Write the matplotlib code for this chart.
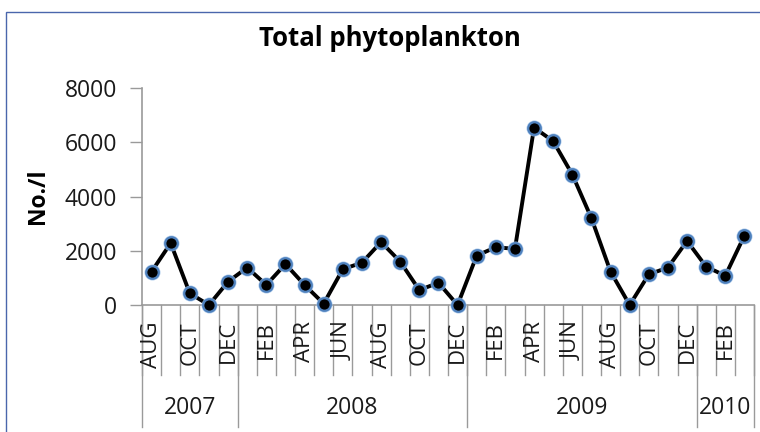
import matplotlib
matplotlib.use("Agg")
import matplotlib.pyplot as plt
from matplotlib.patches import Rectangle
from matplotlib.lines import Line2D

plt.rcParams['font.family'] = ['Open Sans', 'DejaVu Sans']

months = ["AUG", "SEP", "OCT", "NOV", "DEC",
          "JAN", "FEB", "MAR", "APR", "MAY", "JUN", "JUL", "AUG", "SEP", "OCT", "NOV", "DEC",
          "JAN", "FEB", "MAR", "APR", "MAY", "JUN", "JUL", "AUG", "SEP", "OCT", "NOV", "DEC",
          "JAN", "FEB", "MAR"]
years = ["2007", "2008", "2009", "2010"]
year_counts = [5, 12, 12, 3]
values = [1230, 2280, 430, 0, 860, 1380, 740, 1510, 740, 50, 1320, 1560,
          2320, 1600, 550, 820, 0, 1820, 2130, 2070, 6540, 6040, 4810, 3200,
          1230, 0, 1130, 1380, 2360, 1410, 1080, 2560]
yticks = [0, 2000, 4000, 6000, 8000]

W, H = 760, 432
fig = plt.figure(figsize=(W / 100, H / 100), dpi=100)
fig.patch.set_facecolor('white')

# outer chart border
top_frac = 1 - 12 / H
fig.patches.append(Rectangle((6 / W, -0.2), 1.5, top_frac + 0.2, transform=fig.transFigure,
                             fill=False, edgecolor='#4a66ac', linewidth=1.0, zorder=0))

ax_left, ax_right = 142 / W, 754 / W
ax_bottom, ax_top = 1 - 305 / H, 1 - 88 / H
ax = fig.add_axes([ax_left, ax_bottom, ax_right - ax_left, ax_top - ax_bottom])

x = list(range(len(values)))
gray = '#9a9a9a'
txt = '#1a1a1a'
ax.plot(x, values, color='black', linewidth=2.8, zorder=3, clip_on=False)
ax.plot(x, values, linestyle='none', marker='o', markersize=11.5,
        markerfacecolor='#9cc0e8', markeredgecolor='none', alpha=0.85, zorder=4, clip_on=False)
ax.plot(x, values, linestyle='none', marker='o', markersize=9,
        markerfacecolor='black', markeredgecolor='#4f81bd', markeredgewidth=1.6,
        zorder=5, clip_on=False)

ax.set_xlim(-0.5, len(values) - 0.5)
ax.set_ylim(0, 8000)
ax.set_yticks(yticks)
ax.set_yticklabels([str(v) for v in yticks], fontsize=16.5, color=txt)
ax.tick_params(axis='y', direction='out', length=9, width=1, color=gray, pad=9)
ax.set_xticks([])

for s in ['top', 'right']:
    ax.spines[s].set_visible(False)
ax.spines['left'].set_color(gray)
ax.spines['bottom'].set_color(gray)
ax.spines['left'].set_linewidth(1.2)
ax.spines['bottom'].set_linewidth(1.2)

ax_h_px = (ax_top - ax_bottom) * H
def yfrac(px_below):
    return -px_below / ax_h_px

trans = ax.get_xaxis_transform()
# category separators
for i in range(len(values) + 1):
    b = i - 0.5
    ax.add_line(Line2D([b, b], [0, yfrac(70)], transform=trans, color=gray,
                       linewidth=1.0, clip_on=False))
# year separators
pos = 0
bounds = [0]
for c in year_counts:
    pos += c
    bounds.append(pos)
for b in bounds:
    ax.add_line(Line2D([b - 0.5, b - 0.5], [0, yfrac(122)], transform=trans, color=gray,
                       linewidth=1.0, clip_on=False))

# month labels every other month
for i, m in enumerate(months):
    if i % 2 == 0:
        ax.text(i, yfrac(16), m, transform=trans, rotation=90, ha='center', va='top',
                fontsize=16, color=txt)

# year labels
for k, yr in enumerate(years):
    c = (bounds[k] + bounds[k + 1] - 1) / 2
    ax.text(c, yfrac(103), yr, transform=trans, ha='center', va='center',
            fontsize=16.5, color=txt)

ax.set_ylabel("No./l", fontsize=16.5, fontweight='bold')
ax.yaxis.set_label_coords(-(142 - 50) / ((ax_right - ax_left) * W), 0.5)

fig.text(390 / W, 1 - 38 / H, "Total phytoplankton", ha='center', va='center',
         fontsize=18.5, fontweight='bold', color='black')

fig.savefig("out.png", dpi=100)
